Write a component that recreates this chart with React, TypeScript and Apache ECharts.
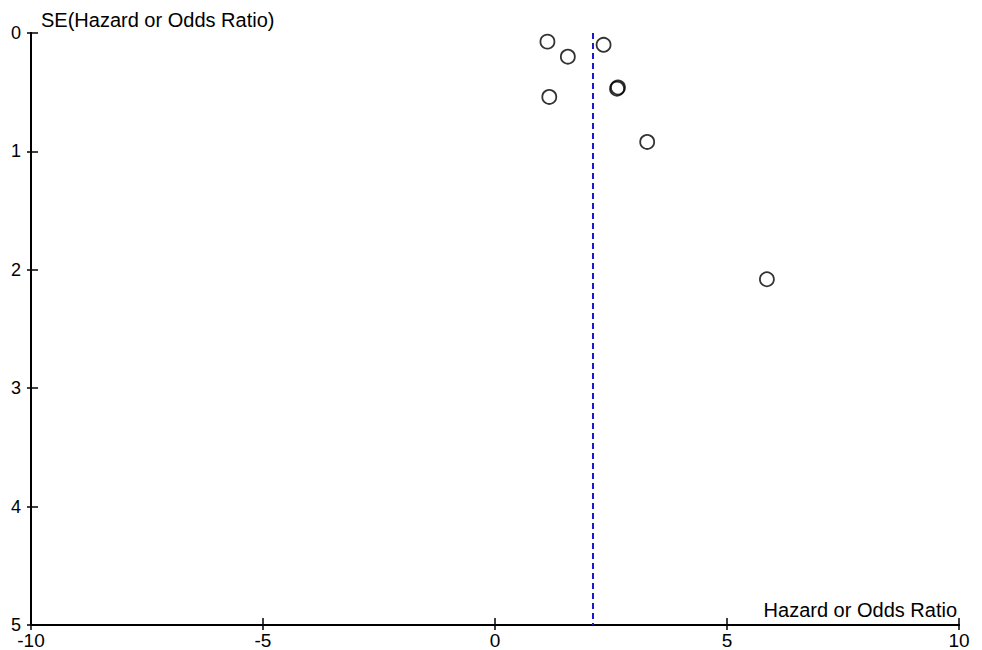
import React, { useEffect, useRef } from "react";
import * as echarts from "echarts";

const effectSizes = [1.13, 1.57, 2.34, 1.17, 2.65, 2.63, 3.28, 5.86];
const standardErrors = [0.073, 0.2, 0.1, 0.54, 0.46, 0.47, 0.92, 2.08];
const pooledEstimate = 2.1;
const xTicks = [-10, -5, 0, 5, 10];
const yTicks = [0, 1, 2, 3, 4, 5];
const xTitle = "Hazard or Odds Ratio";
const yTitle = "SE(Hazard or Odds Ratio)";

export default function App() {
  const ref = useRef<HTMLDivElement>(null);
  useEffect(() => {
    if (!ref.current) return;
    const chart = echarts.init(ref.current, null, { renderer: "svg" });
    const font = "Arial, 'Liberation Sans', sans-serif";
    const points = effectSizes.map((x, i) => [x, standardErrors[i]]);
    const axisLineStyle = { color: "#000", width: 2 };
    const xBase = {
      type: "value",
      min: xTicks[0],
      max: xTicks[xTicks.length - 1],
      interval: 5,
      position: "bottom",
      splitLine: { show: false },
      axisLine: { show: true, onZero: false, lineStyle: axisLineStyle },
    };
    const yBase = {
      type: "value",
      min: yTicks[0],
      max: yTicks[yTicks.length - 1],
      interval: 1,
      inverse: true,
      position: "left",
      splitLine: { show: false },
      axisLine: { show: true, onZero: false, lineStyle: axisLineStyle },
    };
    chart.setOption({
      animation: false,
      backgroundColor: "#fff",
      grid: { left: 31, right: 23, top: 33, bottom: 25 },
      xAxis: [
        {
          ...xBase,
          axisTick: { show: true, length: 5, lineStyle: { color: "#000", width: 1.5 } },
          axisLabel: { color: "#000", fontSize: 19, fontFamily: font, margin: 6 },
        },
        {
          ...xBase,
          axisTick: { show: true, inside: true, length: 7, lineStyle: { color: "#000", width: 1.5 } },
          axisLabel: { show: false },
        },
      ],
      yAxis: [
        {
          ...yBase,
          axisTick: { show: true, length: 4, lineStyle: { color: "#000", width: 1.5 } },
          axisLabel: { color: "#000", fontSize: 18, fontFamily: font, margin: 10 },
        },
        {
          ...yBase,
          axisTick: { show: true, inside: true, length: 7, lineStyle: { color: "#000", width: 1.5 } },
          axisLabel: { show: false },
        },
      ],
      graphic: [
        {
          type: "text",
          left: 41,
          top: 10,
          style: { text: yTitle, fontSize: 20, fontFamily: font, fill: "#000" },
        },
        {
          type: "text",
          right: 25,
          top: 600,
          style: { text: xTitle, fontSize: 20, fontFamily: font, fill: "#000" },
        },
      ],
      series: [
        {
          type: "scatter",
          xAxisIndex: 0,
          yAxisIndex: 0,
          data: points,
          symbol: "circle",
          symbolSize: 14,
          itemStyle: { color: "rgba(255,255,255,0)", borderColor: "#000", borderWidth: 1.8 },
          markLine: {
            silent: true,
            symbol: "none",
            label: { show: false },
            lineStyle: { color: "#1a1acc", type: [6, 4], width: 2 },
            data: [[{ coord: [pooledEstimate, 0] }, { coord: [pooledEstimate, 5] }]],
          },
        },
      ],
    });
    return () => chart.dispose();
  }, []);
  return (
    <div
      ref={ref}
      style={{ position: "absolute", left: 0, top: 0, width: 982, height: 650 }}
    />
  );
}
